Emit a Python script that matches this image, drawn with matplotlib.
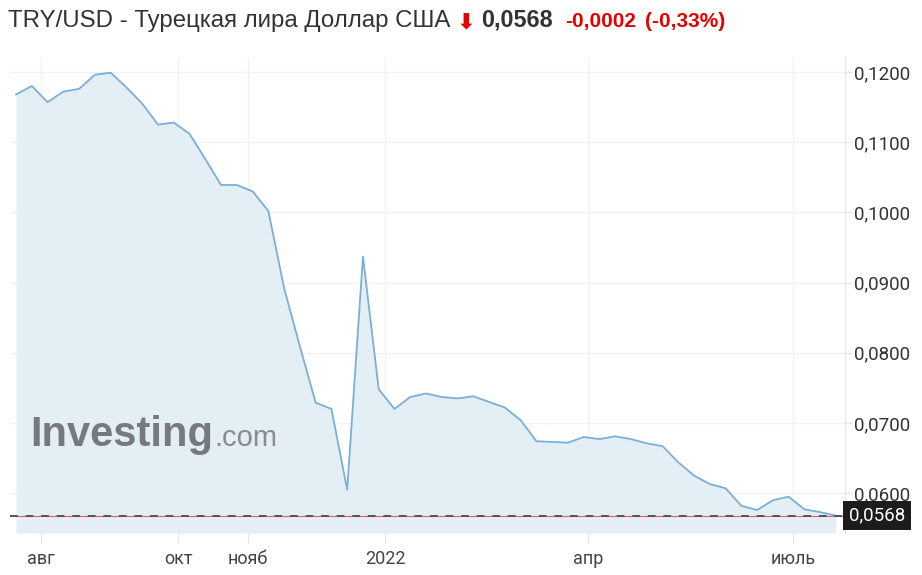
import numpy as np
import pandas as pd
import matplotlib.pyplot as plt

# weekly closes TRY/USD
start_date = '2021-07-21'
values = [0.1168, 0.1180, 0.1157, 0.1172, 0.1176, 0.1196, 0.1199, 0.1178, 0.1155, 0.1125,
          0.1128, 0.1112, 0.1076, 0.1039, 0.1039, 0.1030, 0.1002, 0.0892, 0.0809, 0.0729,
          0.0720, 0.0605, 0.0937, 0.0748, 0.0720, 0.0737, 0.0742, 0.0737, 0.0735, 0.0738,
          0.0730, 0.0722, 0.0704, 0.0674, 0.0673, 0.0672, 0.0680, 0.0677, 0.0681, 0.0677,
          0.0671, 0.0667, 0.0644, 0.0625, 0.0613, 0.0607, 0.0582, 0.0576, 0.0590, 0.0595,
          0.0577, 0.0573, 0.0568]
dates = pd.date_range(start_date, periods=len(values), freq='7D')

last_price = 0.0568
yticks = [0.06, 0.07, 0.08, 0.09, 0.10, 0.11, 0.12]
xtick_dates = ['2021-08-01', '2021-10-01', '2021-11-01', '2022-01-01', '2022-04-01', '2022-07-01']
xtick_labels = ['авг', 'окт', 'нояб', '2022', 'апр', 'июль']

title = 'TRY/USD - Турецкая лира Доллар США'
price_txt = '0,0568'
change_txt = '-0,0002'
pct_txt = '(-0,33%)'

plt.rcParams['font.family'] = ['Roboto', 'DejaVu Sans']

W, H = 922, 575
fig = plt.figure(figsize=(W / 100, H / 100), dpi=100)
ax = fig.add_axes([10 / W, 42 / H, 835 / W, 475 / H])

ymin, ymax = 0.05433, 0.12199
ax.fill_between(dates, values, ymin, color='#e4eef5', lw=0, zorder=1)
ax.plot(dates, values, color='#7aafd6', lw=1.3, zorder=3)

# last price lines
ax.axhline(last_price, color='#e06060', lw=0.8, zorder=4)
ax.axhline(last_price, color='#555555', lw=1.4, ls=(0, (4, 4)), zorder=5)

ax.set_ylim(ymin, ymax)
ax.set_xlim(dates[0] - pd.Timedelta(days=2.7), dates[0] + pd.Timedelta(days=368))

ax.yaxis.tick_right()
ax.set_yticks(yticks)
ax.set_yticklabels([f'{v:.4f}'.replace('.', ',') for v in yticks])
ax.set_xticks(pd.to_datetime(xtick_dates))
ax.set_xticklabels(xtick_labels)
ax.tick_params(axis='y', length=5, color='#e3e3e3', labelsize=13.5, labelcolor='#333333', pad=1.5)
ax.tick_params(axis='x', length=7, color='#e3e3e3', labelsize=13, labelcolor='#444444', pad=5)

ax.grid(True, color='#f2f2f2', lw=1, zorder=0)
ax.set_axisbelow(True)
for s in ['top', 'left', 'bottom']:
    ax.spines[s].set_visible(False)
ax.spines['right'].set_color('#e6e6e6')

# price tag on the right axis
ax.text(1.0045, last_price, price_txt, transform=ax.get_yaxis_transform(),
        ha='left', va='center', fontsize=13.5, color='white', zorder=6,
        bbox=dict(boxstyle='square,pad=0.3', fc='#1c1c1c', ec='none'))

# watermark
fig.canvas.draw()
r = fig.canvas.get_renderer()
t = fig.text(30 / W, 1 - 446 / H, 'Investing', fontsize=30, fontweight='bold',
             family=['Liberation Sans'], color='#767a7d', va='baseline')
x1 = t.get_window_extent(r).x1
fig.text((x1 + 1) / W, 1 - 446 / H, '.com', fontsize=21, family=['Liberation Sans'],
         color='#8a8d90', va='baseline')

# header line
base = 1 - 27 / H
hdr = ['Liberation Sans', 'DejaVu Sans']
t = fig.text(8 / W, base, title, fontsize=17.3, color='#333333', va='baseline', family=hdr)
x = t.get_window_extent(r).x1 + 6
t = fig.text(x / W, base - 1 / H, '⬇', fontsize=16, color='#e60000', va='baseline',
             family=['DejaVu Sans'], fontweight='bold')
x = t.get_window_extent(r).x1 + 6
t = fig.text(x / W, base, price_txt, fontsize=16.8, color='#333333', va='baseline',
             fontweight='bold', family=hdr)
x = t.get_window_extent(r).x1 + 12
t = fig.text(x / W, base, change_txt, fontsize=15, color='#e60000', va='baseline',
             fontweight='bold', family=hdr)
x = t.get_window_extent(r).x1 + 9
fig.text(x / W, base, pct_txt, fontsize=15, color='#e60000', va='baseline',
         fontweight='bold', family=hdr)

fig.savefig('out.png', dpi=100)
